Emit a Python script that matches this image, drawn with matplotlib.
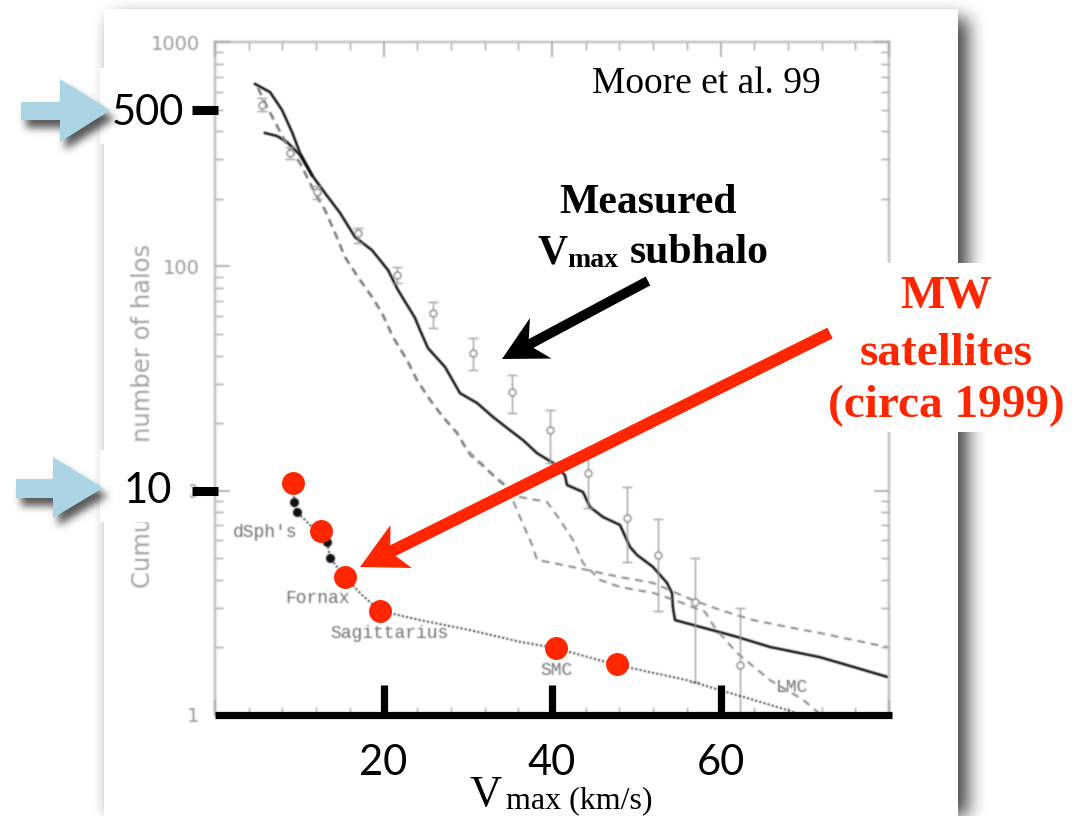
import numpy as np
import matplotlib
matplotlib.use("Agg")
import matplotlib.pyplot as plt
from matplotlib import transforms
from matplotlib.patches import Rectangle, Polygon, FancyArrow
from matplotlib.ticker import MultipleLocator, FuncFormatter, NullFormatter

# ---------------------------------------------------------------- data
# cluster subhalo curves (solid), V_max in km/s vs cumulative count
cluster_a_v = [4.75, 6.53, 7.95, 9.14, 10.09, 11.51, 13.06, 14.84, 16.62, 18.64, 20.53,
               21.72, 23.74, 24.33, 25.28, 27.30, 29.08, 31.10, 33.00, 35.01, 36.56,
               38.22, 40.12, 41.54, 41.78, 43.68, 44.51, 46.05, 48.07, 49.26, 50.09,
               51.99, 53.65, 54.24, 54.36, 54.60, 56.74, 61.96, 65.88, 71.81, 75.73, 79.76]
cluster_a_n = [650, 598, 498, 397, 320, 255, 212, 173, 135, 118, 96.3,
               78.4, 58.9, 52.0, 43.2, 35.6, 27.2, 24.6, 21.3, 18.6, 16.8,
               14.7, 13.3, 11.7, 10.6, 9.86, 8.45, 7.63, 7.03, 5.61, 5.17,
               4.57, 3.88, 3.50, 3.00, 2.65, 2.52, 2.23, 2.01, 1.81, 1.64, 1.48]
cluster_b_v = [5.93, 7.36, 8.55, 9.50, 10.09, 11.51]
cluster_b_n = [393, 381, 358, 330, 314, 255]

# galaxy subhalo curves (dashed)
galaxy_a_v = [5.10, 6.05, 7.12, 8.55, 10.09, 11.87, 13.06, 14.24, 15.43, 16.97, 18.64,
              19.82, 21.13, 22.79, 23.98, 25.52, 27.06, 28.72, 29.91, 31.81, 33.47,
              34.66, 36.20, 37.74, 38.22, 40.12, 44.15, 48.07, 51.99, 56.74, 59.94,
              63.86, 67.89, 71.81, 75.73, 79.76]
galaxy_a_n = [624, 524, 440, 347, 289, 212, 178, 141, 110, 89.6, 73.0,
              61.9, 48.4, 38.2, 31.1, 25.4, 21.3, 18.1, 15.2, 13.0, 11.2,
              10.4, 7.63, 5.61, 4.91, 4.76, 4.43, 4.12, 3.88, 3.25, 2.94,
              2.65, 2.47, 2.32, 2.16, 2.01]
galaxy_b_v = [5.10, 6.05, 7.12, 8.55, 10.09, 11.87, 13.06, 14.24, 15.43, 16.97, 18.64,
              19.82, 21.13, 22.79, 23.98, 25.52, 27.06, 28.72, 30.27, 32.64, 34.18,
              36.20, 39.41, 40.95, 42.49, 43.68, 45.70, 48.07, 51.99, 54.60, 58.16,
              59.35, 61.96, 65.88, 69.79, 71.81]
galaxy_b_n = [624, 524, 440, 347, 289, 212, 178, 141, 110, 89.6, 73.0,
              61.9, 48.4, 38.2, 31.1, 25.4, 21.3, 18.1, 14.4, 12.1, 10.8,
              9.37, 8.90, 7.40, 6.03, 4.76, 4.00, 3.72, 3.50, 3.25, 2.88,
              2.44, 1.89, 1.43, 1.17, 1.01]

# Virgo cluster galaxies with error bars
virgo_v = [5.58, 8.90, 12.11, 16.97, 21.60, 25.88, 30.62, 35.25, 39.76, 44.27, 48.90,
           52.58, 56.97, 62.31]
virgo_n = [524, 320, 214, 141, 91.5, 62, 41, 27.5, 18.6, 12.0, 7.55, 5.16, 3.19, 1.67]
virgo_lo = [490, 300, 200, 127, 84, 53, 34.5, 22.2, 13.3, 8.4, 4.8, 2.9, 1.4, 1.0]
virgo_hi = [560, 340, 228, 148, 99, 69, 48, 32.7, 22.9, 14.9, 10.4, 7.5, 5.0, 3.0]

# Milky Way satellites (dotted cumulative curve and dSph points)
mw_v = [9.38, 9.38, 9.73, 11.28, 13.29, 13.65, 15.43, 17.45, 19.58, 24.33, 30.27,
        36.20, 40.36, 47.72, 56.02, 59.94, 63.86, 69.08]
mw_n = [9.86, 8.63, 8.03, 7.03, 6.03, 5.01, 4.12, 3.43, 2.91, 2.65, 2.39,
        2.12, 1.99, 1.67, 1.43, 1.29, 1.17, 1.02]
dsph_v = [9.38, 9.73, 13.29, 13.65]
dsph_n = [8.90, 8.03, 5.90, 5.01]

# highlighted satellites
sat_v = [9.26, 12.58, 15.43, 19.58, 40.47, 47.72]
sat_n = [10.8, 6.61, 4.12, 2.91, 1.99, 1.69]

sat_names = ["dSph's", "Fornax", "Sagittarius", "SMC", "LMC"]
sat_name_v = [5.93, 12.2, 20.7, 40.5, 68.5]
sat_name_n = [6.53, 3.32, 2.32, 1.58, 1.32]

x_ticks = [20, 40, 60]
y_marks = [500, 10]
y_mark_labels = ["500", "10"]

RED = "#ff2600"
W, H = 1083, 816


# ---------------------------------------------------------------- filters
def _kernel(sigma):
    r = int(np.ceil(3 * sigma))
    x = np.arange(-r, r + 1)
    k = np.exp(-0.5 * (x / sigma) ** 2)
    return k / k.sum(), r


def _smooth(a, k, r):
    out = np.zeros_like(a)
    for i, w in enumerate(k):
        out += w * np.roll(a, i - r, axis=0)
    out2 = np.zeros_like(out)
    for i, w in enumerate(k):
        out2 += w * np.roll(out, i - r, axis=1)
    return out2


def soften(sigma):
    def _f(im, dpi):
        k, r = _kernel(sigma)
        pad = r + 2
        p = np.pad(im, ((pad, pad), (pad, pad), (0, 0)))
        a = p[..., 3]
        pm = p[..., :3] * a[..., None]
        a_b = _smooth(a, k, r)
        pm_b = np.stack([_smooth(pm[..., c], k, r) for c in range(3)], axis=-1)
        rgb = pm_b / np.maximum(a_b, 1e-6)[..., None]
        out = np.concatenate([np.clip(rgb, 0, 1), a_b[..., None]], axis=-1)
        return out, -pad, -pad
    return _f


def shadow(sigma):
    def _f(im, dpi):
        k, r = _kernel(sigma)
        pad = r + 2
        p = np.pad(im, ((pad, pad), (pad, pad), (0, 0)))
        out = np.zeros_like(p)
        out[..., 3] = _smooth(p[..., 3], k, r)
        return out, -pad, -pad
    return _f


blur = soften(0.7)

# ---------------------------------------------------------------- figure
fig = plt.figure(figsize=(W / 100, H / 100), dpi=100)
fig.patch.set_facecolor("white")

bg = fig.add_axes([0, 0, 1, 1], zorder=0)
bg.set_xlim(0, W)
bg.set_ylim(H, 0)
bg.axis("off")
sh = Rectangle((112, 18), 856, 840, fc="black", ec="none", alpha=0.75)
sh.set_agg_filter(shadow(9))
bg.add_patch(sh)
bg.add_patch(Rectangle((104, 9), 854, 830, fc="white", ec="none"))

# ---------------------------------------------------------------- plot
ax = fig.add_axes([215 / W, (H - 715) / H, 674 / W, 673 / H], zorder=1)
ax.set_yscale("log")
ax.set_xlim(0, 80)
ax.set_ylim(1, 1000)
for side in ["left", "top", "right"]:
    ax.spines[side].set_color("#b3b3b3")
    ax.spines[side].set_linewidth(1.5)
    ax.spines[side].set_agg_filter(blur)
ax.spines["bottom"].set_visible(False)

ax.xaxis.set_major_locator(MultipleLocator(20))
ax.xaxis.set_minor_locator(MultipleLocator(4))
ax.tick_params(which="both", direction="in", top=True, right=True, bottom=True, left=True,
               colors="#a5a5a5", labelbottom=False)
ax.tick_params(which="major", length=11, width=1.2)
ax.tick_params(which="minor", length=5.5, width=1.0)
ax.tick_params(axis="y", which="major", labelsize=14, labelcolor="#999999", pad=11)
ax.yaxis.set_major_formatter(FuncFormatter(lambda v, p: f"{v:g}"))
ax.yaxis.set_minor_formatter(NullFormatter())
ax.set_ylabel("Cumulative number of halos", fontsize=17.5, color="#a3a3a3")
ax.yaxis.set_label_coords(-0.0896, 0.444)
ax.xaxis.set_agg_filter(blur)
ax.yaxis.set_agg_filter(blur)

arts = []
arts += ax.plot(cluster_a_v, cluster_a_n, color="#111111", lw=1.8)
arts += ax.plot(cluster_b_v, cluster_b_n, color="#111111", lw=1.8)
arts += ax.plot(galaxy_a_v, galaxy_a_n, color="#858585", lw=1.4, ls=(0, (4, 3)))
arts += ax.plot(galaxy_b_v, galaxy_b_n, color="#858585", lw=1.4, ls=(0, (4, 3)))

vn = np.array(virgo_n)
eb = ax.errorbar(virgo_v, virgo_n, yerr=[vn - np.array(virgo_lo), np.array(virgo_hi) - vn],
                 fmt="o", ms=5, mfc="white", mec="#8c8c8c", mew=1.0, ecolor="#a0a0a0",
                 elinewidth=1.0, capsize=3.5, capthick=1.0)
arts += [eb.lines[0]] + list(eb.lines[1]) + list(eb.lines[2])

arts += ax.plot(mw_v, mw_n, color="#333333", lw=1.4, ls=(0, (1, 1.2)))
arts += ax.plot(dsph_v, dsph_n, "o", color="#111111", ms=5.5)

for name, v, n in zip(sat_names, sat_name_v, sat_name_n):
    arts.append(ax.text(v, n, name, family="Liberation Mono", fontsize=13,
                        color="#707070", ha="center", va="center"))
for a in arts:
    a.set_agg_filter(blur)

ax.plot(sat_v, sat_n, "o", color=RED, ms=16.5, mec="none", zorder=10, clip_on=False)

# ---------------------------------------------------------------- annotations
ov = fig.add_axes([0, 0, 1, 1], zorder=2)
ov.set_xlim(0, W)
ov.set_ylim(H, 0)
ov.axis("off")

# label backgrounds
for (x0, y0, w, h) in [(100, 68, 90, 76), (100, 450, 90, 72), (862, 263, 221, 169)]:
    ov.add_patch(Rectangle((x0, y0), w, h, fc="white", ec="none", zorder=1))

# bold axis and value marks
ov.plot([0, 1.005], [0, 0], transform=ax.transAxes, color="black", lw=5.2,
        solid_capstyle="butt", clip_on=False, zorder=3)
tx = transforms.blended_transform_factory(ax.transData, ax.transAxes)
tlab = transforms.blended_transform_factory(ax.transData, ov.transData)
for v in x_ticks:
    ov.plot([v, v], [0, 0.045], transform=tx, color="black", lw=5.2,
            solid_capstyle="butt", clip_on=False, zorder=3)
    ov.text(v, 775, f"{v}", transform=tlab, ha="center", va="baseline",
            family="Lato", fontsize=30, zorder=3)

ty = transforms.blended_transform_factory(ov.transData, ax.transData)
for n in y_marks:
    ov.plot([192, 218], [n, n], transform=ty, color="black", lw=6.5,
            solid_capstyle="butt", clip_on=False, zorder=3)
ov.text(112, 125, y_mark_labels[0], family="Lato", fontsize=30, ha="left", va="baseline", zorder=3)
ov.text(124, 503, y_mark_labels[1], family="Lato", fontsize=30, ha="left", va="baseline", zorder=3)

# blue pointers with soft shadows
blue_arrows = [
    [(21, 102), (60, 102), (60, 79), (110, 110.5), (60, 142), (60, 120), (21, 120)],
    [(16, 479), (53, 479), (53, 457), (103, 488), (53, 518), (53, 498), (16, 498)],
]
for pts in blue_arrows:
    spts = [(x + 5, y + 8) for x, y in pts]
    s = Polygon(spts, closed=True, fc="black", ec="none", alpha=0.65, zorder=2)
    s.set_agg_filter(shadow(4))
    ov.add_patch(s)
    ov.add_patch(Polygon(pts, closed=True, fc="#abd5e5", ec="none", zorder=3))

# axis title
serif = "Liberation Serif"
ov.text(470, 806, "V", family=serif, fontsize=32, ha="left", va="baseline", zorder=3)
ov.text(506, 808, "max (km/s)", family=serif, fontsize=23, ha="left", va="baseline", zorder=3)

ov.text(592, 93, "Moore et al. 99", family=serif, fontsize=27, ha="left", va="baseline", zorder=3)

ov.text(648, 213, "Measured", family=serif, fontsize=30, weight="bold", ha="center",
        va="baseline", zorder=3)
ov.text(537, 263, "V", family=serif, fontsize=30, weight="bold", ha="left", va="baseline", zorder=3)
ov.text(567, 267, "max", family=serif, fontsize=20, weight="bold", ha="left", va="baseline", zorder=3)
ov.text(630, 263, "subhalo", family=serif, fontsize=30, weight="bold", ha="left",
        va="baseline", zorder=3)

for txt, yb in [("MW", 308), ("satellites", 365), ("(circa 1999)", 417)]:
    ov.text(946, yb, txt, family=serif, fontsize=34, weight="bold", color=RED,
            ha="center", va="baseline", zorder=3)

ov.add_patch(FancyArrow(648, 281, 502 - 648, 359 - 281, width=10, head_width=46,
                        head_length=44, overhang=0.25, length_includes_head=True,
                        color="black", ec="none", zorder=4))
ov.add_patch(FancyArrow(830, 333, 360 - 830, 567 - 333, width=12, head_width=48,
                        head_length=46, overhang=0.2, length_includes_head=True,
                        color=RED, ec="none", zorder=4))

fig.savefig("out.png", dpi=100)
